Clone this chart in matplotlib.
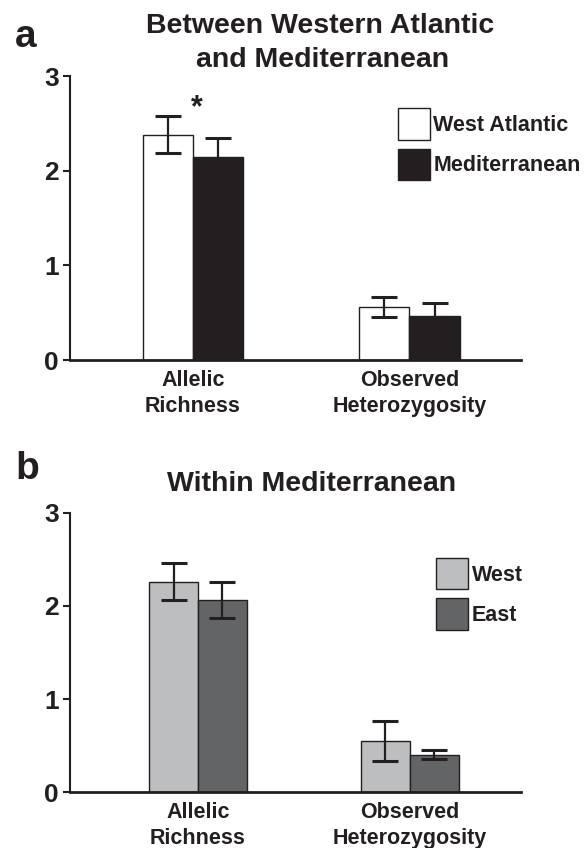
import matplotlib.pyplot as plt
import numpy as np

plt.rcParams['font.family'] = ['Liberation Sans', 'DejaVu Sans']
plt.rcParams['font.weight'] = 'bold'

# group labels shared by both panels
categories = ['Allelic\nRichness', 'Observed\nHeterozygosity']

# panel a: western Atlantic vs Mediterranean
a_names = ['West Atlantic', 'Mediterranean']
a_west_atl = [2.38, 0.56]
a_west_atl_err = [0.195, 0.11]
a_med = [2.14, 0.47]
a_med_err = [0.20, 0.13]

# panel b: within the Mediterranean
b_names = ['West', 'East']
b_west = [2.26, 0.55]
b_west_err = [0.195, 0.21]
b_east = [2.06, 0.405]
b_east_err = [0.195, 0.05]

ink = '#231f20'
W, H = 586, 848


def panel(ax, v1, e1, v2, e2, names, colors, xlim, anchor):
    x = np.array([1.0, 2.0])
    w = 0.231
    ax.bar(x - w / 2, v1, w, color=colors[0], edgecolor=ink, linewidth=1.0, label=names[0])
    ax.bar(x + w / 2, v2, w, color=colors[1], edgecolor=ink, linewidth=1.0, label=names[1])
    for xs, v, e in [(x - w / 2, v1, e1), (x + w / 2, v2, e2)]:
        ax.errorbar(xs, v, yerr=e, fmt='none', ecolor=ink, elinewidth=1.6,
                    capsize=9.3, capthick=2.2)
    ax.set_xlim(*xlim)
    ax.set_ylim(0, 3)
    ax.set_yticks([0, 1, 2, 3])
    ax.set_xticks(x, categories)
    for t in ax.get_xticklabels():
        t.set_linespacing(1.3)
    ax.tick_params(axis='x', length=0, pad=7, labelsize=15.5, labelcolor=ink)
    ax.tick_params(axis='y', length=5, width=1.5, pad=3, labelsize=19,
                   labelcolor=ink, color=ink)
    for s in ['top', 'right']:
        ax.spines[s].set_visible(False)
    ax.spines['left'].set_linewidth(1.5)
    ax.spines['bottom'].set_linewidth(2.0)
    ax.spines['left'].set_color(ink)
    ax.spines['bottom'].set_color(ink)
    leg = ax.legend(loc='upper left', bbox_to_anchor=anchor, frameon=False,
                    fontsize=15.5, handlelength=1.49, handleheight=1.87,
                    handletextpad=0.16, labelspacing=0.42, borderpad=0,
                    borderaxespad=0)
    for t in leg.get_texts():
        t.set_color(ink)
    return x, w


fig = plt.figure(figsize=(W / 100, H / 100), dpi=100)

ax_a = fig.add_axes([70 / W, 1 - 360 / H, 451 / W, 284 / H])
xa, wa = panel(ax_a, a_west_atl, a_west_atl_err, a_med, a_med_err, a_names,
               ['white', ink], (0.432, 2.515), (0.727, 0.887))
# significance mark over the allelic richness pair
ax_a.text(xa[0] + 0.02, 2.57, '*', ha='center', va='baseline', fontsize=22, color=ink)

ax_b = fig.add_axes([70 / W, 1 - 792.3 / H, 451 / W, 279.6 / H])
panel(ax_b, b_west, b_west_err, b_east, b_east_err, b_names,
      ['#bcbec0', '#636466'], (0.396, 2.524), (0.8115, 0.838))

fig.text(15 / W, 1 - 47 / H, 'a', fontsize=28, color=ink, va='baseline')
fig.text(15 / W, 1 - 479 / H, 'b', fontsize=28, color=ink, va='baseline')
fig.text(320 / W, 1 - 33 / H, 'Between Western Atlantic', fontsize=20.5,
         color=ink, ha='center', va='baseline')
fig.text(323 / W, 1 - 67 / H, 'and Mediterranean', fontsize=20.5,
         color=ink, ha='center', va='baseline')
fig.text(312 / W, 1 - 491 / H, 'Within Mediterranean', fontsize=20.5,
         color=ink, ha='center', va='baseline')

fig.savefig('out.png', dpi=100)
